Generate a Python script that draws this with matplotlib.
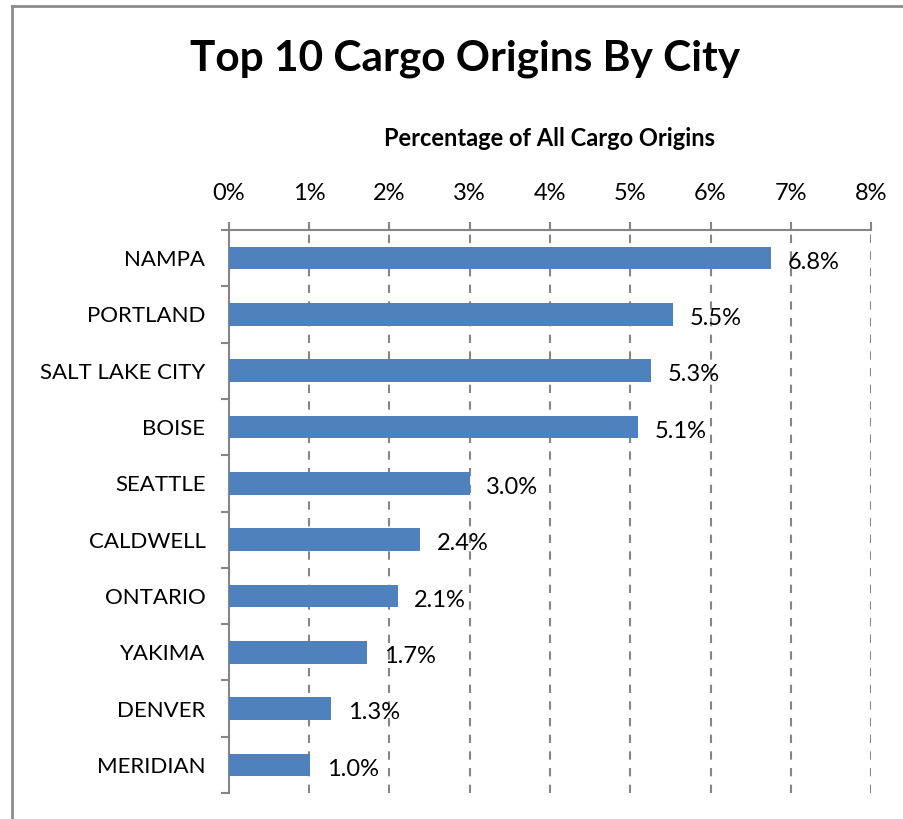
import numpy as np
import matplotlib

matplotlib.use("Agg")
import matplotlib.pyplot as plt
from matplotlib.lines import Line2D
from matplotlib.ticker import FixedLocator

plt.rcParams["font.family"] = ["Lato", "DejaVu Sans"]

# data (percent of all cargo origins), top to bottom
cities = ["NAMPA", "PORTLAND", "SALT LAKE CITY", "BOISE", "SEATTLE",
          "CALDWELL", "ONTARIO", "YAKIMA", "DENVER", "MERIDIAN"]
shares = [6.76, 5.53, 5.26, 5.10, 3.00, 2.38, 2.10, 1.72, 1.27, 1.01]
xticks = [0, 1, 2, 3, 4, 5, 6, 7, 8]

BAR = "#4F81BD"
GRID = "#868686"

fig = plt.figure(figsize=(9.04, 8.19), dpi=100)
W, H = 904, 819
ax = fig.add_axes([229 / W, 1 - 793 / H, (871 - 229) / W, (793 - 230) / H])

y = np.arange(len(cities))
ax.barh(y, shares, height=0.4, color=BAR, zorder=3)
for yi, v in zip(y, shares):
    ax.annotate(f"{v:.1f}%", (v, yi), xytext=(12, -3), textcoords="offset points",
                va="center", ha="left", fontsize=17, color="black", zorder=4)

ax.set_xlim(0, 8)
ax.set_ylim(len(cities) - 0.5, -0.5)

ax.xaxis.tick_top()
ax.xaxis.set_label_position("top")
ax.set_xticks(xticks)
ax.set_xticklabels([f"{t}%" for t in xticks], fontsize=17)
ax.tick_params(axis="x", direction="out", length=6, width=1.5, color=GRID, pad=13)
ax.set_xlabel("Percentage of All Cargo Origins", fontsize=17, fontweight="bold", labelpad=26)

ax.set_yticks(y)
ax.set_yticklabels(cities, fontsize=16)
ax.yaxis.set_minor_locator(FixedLocator(np.arange(-0.5, len(cities), 1.0)))
ax.tick_params(axis="y", which="major", length=0, pad=17)
ax.tick_params(axis="y", which="minor", direction="out", length=6, width=1.5, color=GRID)

ax.grid(axis="x", color=GRID, linestyle=(0, (4, 4)), linewidth=1.5, zorder=1)
ax.set_axisbelow(True)

for s in ("right", "bottom"):
    ax.spines[s].set_visible(False)
for s in ("top", "left"):
    ax.spines[s].set_color(GRID)
    ax.spines[s].set_linewidth(1.5)

fig.text(465 / W, 1 - 59 / H, "Top 10 Cargo Origins By City", ha="center", va="center",
         fontsize=30.5, fontweight="bold")

# chart border (only left and top edges fall inside the image)
fig.add_artist(Line2D([11.5 / W, 11.5 / W], [0, 1 - 5.5 / H], transform=fig.transFigure,
                      color="#8C8C8C", linewidth=2))
fig.add_artist(Line2D([11.5 / W, 1], [1 - 5.5 / H, 1 - 5.5 / H], transform=fig.transFigure,
                      color="#8C8C8C", linewidth=2))

fig.savefig("out.png", dpi=100)
